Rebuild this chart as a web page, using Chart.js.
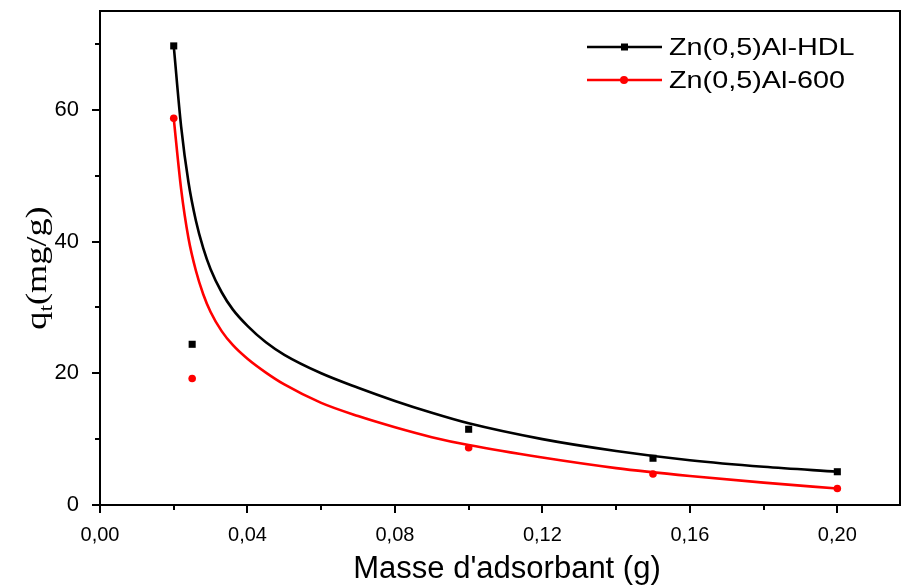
<!DOCTYPE html>
<html>
<head>
<meta charset="utf-8">
<script src="https://cdn.jsdelivr.net/npm/chart.js@4.4.1/dist/chart.umd.min.js"></script>
<style>
  html, body { margin: 0; padding: 0; background: #fff; }
  #wrap { width: 905px; height: 585px; }
</style>
</head>
<body>
<div id="wrap"><canvas id="chart"></canvas></div>
<script>
(function () {
  "use strict";

  // measured points
  const massX = [0.02, 0.025, 0.10, 0.15, 0.20];
  const qHDL = [69.7, 24.4, 11.5, 7.1, 5.05];
  const q600 = [58.7, 19.2, 8.7, 4.7, 2.5];

  // fitted curves
  const fitX = [0.020, 0.022, 0.024, 0.026, 0.028, 0.030, 0.033, 0.036, 0.040, 0.045, 0.050, 0.060, 0.070, 0.080, 0.090, 0.100, 0.120, 0.140, 0.160, 0.180, 0.200];
  const fitHDL = [69.7, 57.5, 49.0, 43.2, 39.0, 35.8, 32.3, 29.7, 27.2, 24.7, 22.8, 20.0, 17.8, 15.8, 14.0, 12.4, 10.0, 8.2, 6.8, 5.8, 5.05];
  const fit600 = [58.7, 48.0, 40.5, 35.6, 32.0, 29.3, 26.4, 24.3, 22.2, 20.1, 18.3, 15.5, 13.5, 11.8, 10.3, 9.1, 7.2, 5.6, 4.4, 3.4, 2.5];

  // ticks (major labelled, minor in between)
  const xTickValues = [0, 0.02, 0.04, 0.06, 0.08, 0.10, 0.12, 0.14, 0.16, 0.18, 0.20];
  const yTickValues = [0, 10, 20, 30, 40, 50, 60, 70];

  const seriesNames = ["Zn(0,5)Al-HDL", "Zn(0,5)Al-600"];
  const seriesColors = ["#000000", "#ff0000"];

  const pts = (xs, ys) => xs.map((x, i) => ({ x: x, y: ys[i] }));

  const frame = {
    id: "frame",
    afterDraw(chart) {
      const ctx = chart.ctx;
      const a = chart.chartArea;
      const xs = chart.scales.x;
      const ys = chart.scales.y;
      ctx.save();
      ctx.strokeStyle = "#000";
      ctx.lineWidth = 2;
      ctx.strokeRect(a.left, a.top, a.right - a.left, a.bottom - a.top);

      ctx.beginPath();
      xTickValues.forEach((v, i) => {
        const px = Math.round(xs.getPixelForValue(v));
        const len = i % 2 === 0 ? 8 : 5;
        ctx.moveTo(px, a.bottom);
        ctx.lineTo(px, a.bottom + len);
      });
      yTickValues.forEach((v, i) => {
        const py = Math.round(ys.getPixelForValue(v));
        const len = i % 2 === 0 ? 8 : 5;
        ctx.moveTo(a.left, py);
        ctx.lineTo(a.left - len, py);
      });
      ctx.stroke();

      // legend
      seriesNames.forEach((name, i) => {
        const y = 47 + i * 33;
        ctx.strokeStyle = seriesColors[i];
        ctx.fillStyle = seriesColors[i];
        ctx.lineWidth = 2.5;
        ctx.beginPath();
        ctx.moveTo(587, y);
        ctx.lineTo(662, y);
        ctx.stroke();
        if (i === 0) {
          ctx.fillRect(621, y - 3.5, 7, 7);
        } else {
          ctx.beginPath();
          ctx.arc(624, y, 4, 0, Math.PI * 2);
          ctx.fill();
        }
        ctx.save();
        ctx.translate(669, y + 1);
        ctx.scale(1.2, 1);
        ctx.fillStyle = "#000";
        ctx.font = "24px 'Liberation Sans', Arial, sans-serif";
        ctx.textBaseline = "middle";
        ctx.textAlign = "left";
        ctx.fillText(name, 0, 0);
        ctx.restore();
      });

      // x title
      ctx.fillStyle = "#000";
      ctx.font = "31px 'Liberation Sans', Arial, sans-serif";
      ctx.textAlign = "center";
      ctx.textBaseline = "middle";
      ctx.fillText("Masse d'adsorbant (g)", 507, 569);

      // y title with subscript
      ctx.translate(36, 268);
      ctx.rotate(-Math.PI / 2);
      ctx.scale(1.25, 1);
      ctx.textAlign = "left";
      ctx.textBaseline = "alphabetic";
      const big = "29px 'Liberation Serif', 'Times New Roman', serif";
      const small = "19px 'Liberation Serif', 'Times New Roman', serif";
      ctx.font = big;
      const wq = ctx.measureText("q").width;
      ctx.font = small;
      const wt = ctx.measureText("t").width;
      ctx.font = big;
      const wr = ctx.measureText("(mg/g)").width;
      const x0 = -(wq + wt + wr) / 2;
      ctx.fillText("q", x0, 10);
      ctx.font = small;
      ctx.fillText("t", x0 + wq, 16);
      ctx.font = big;
      ctx.fillText("(mg/g)", x0 + wq + wt, 10);
      ctx.restore();
    },
  };

  new Chart(document.getElementById("chart"), {
    type: "scatter",
    data: {
      datasets: [
        {
          label: seriesNames[0],
          data: pts(massX, qHDL),
          pointStyle: "rect",
          pointRadius: 5,
          backgroundColor: seriesColors[0],
          borderWidth: 0,
          showLine: false,
        },
        {
          label: seriesNames[1],
          data: pts(massX, q600),
          pointStyle: "circle",
          pointRadius: 3.8,
          backgroundColor: seriesColors[1],
          borderWidth: 0,
          showLine: false,
        },
        {
          label: "fit HDL",
          data: pts(fitX, fitHDL),
          showLine: true,
          pointRadius: 0,
          borderColor: seriesColors[0],
          borderWidth: 2.6,
          cubicInterpolationMode: "monotone",
        },
        {
          label: "fit 600",
          data: pts(fitX, fit600),
          showLine: true,
          pointRadius: 0,
          borderColor: seriesColors[1],
          borderWidth: 2.6,
          cubicInterpolationMode: "monotone",
        },
      ],
    },
    options: {
      responsive: true,
      maintainAspectRatio: false,
      animation: false,
      layout: { padding: { left: 0, right: 2, top: 11, bottom: 0 } },
      plugins: {
        legend: { display: false },
        tooltip: { enabled: false },
      },
      scales: {
        x: {
          type: "linear",
          min: 0,
          max: 0.217,
          afterBuildTicks(scale) {
            scale.ticks = xTickValues.map((v) => ({ value: v }));
          },
          afterFit(scale) {
            scale.height = 80;
            scale.paddingLeft = 0;
            scale.paddingRight = 0;
          },
          grid: { display: false },
          border: { display: false },
          ticks: {
            padding: 10,
            color: "#000",
            font: { family: "'Liberation Sans', Arial, sans-serif", size: 20 },
            maxRotation: 0,
            autoSkip: false,
            callback(value, index) {
              return index % 2 === 0 ? value.toFixed(2).replace(".", ",") : "";
            },
          },
        },
        y: {
          min: 0,
          max: 75,
          afterBuildTicks(scale) {
            scale.ticks = yTickValues.map((v) => ({ value: v }));
          },
          afterFit(scale) {
            scale.width = 100;
            scale.paddingTop = 0;
            scale.paddingBottom = 0;
          },
          grid: { display: false },
          border: { display: false },
          ticks: {
            padding: 13,
            color: "#000",
            font: { family: "'Liberation Sans', Arial, sans-serif", size: 22 },
            autoSkip: false,
            callback(value, index) {
              return index % 2 === 0 ? String(value) : "";
            },
          },
        },
      },
    },
    plugins: [frame],
  });
})();
</script>
</body>
</html>
